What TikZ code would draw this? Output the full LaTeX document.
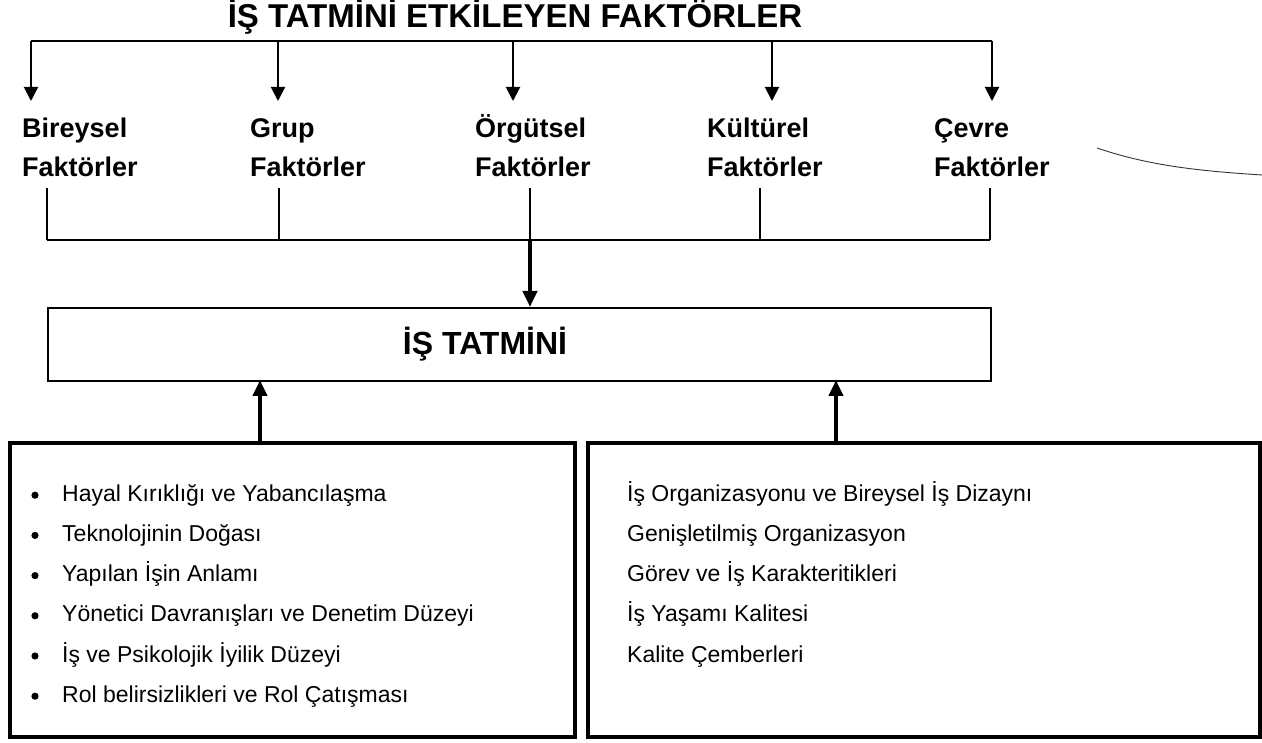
\documentclass[tikz,border=0pt]{standalone}
\usepackage{fontspec}
\setmainfont{Liberation Sans}
\usetikzlibrary{arrows.meta}
\begin{document}
\begin{tikzpicture}[x=1pt,y=-1pt,
  txt/.style={inner sep=0pt,anchor=base west},
  head/.style={txt,font=\bfseries\fontsize{27}{30}\selectfont},
  item/.style={txt,font=\fontsize{23}{26}\selectfont},
  thin line/.style={line width=1.5pt},
  down arrow/.style={line width=2pt,-{Triangle[width=14pt,length=14pt]}},
  heavy arrow/.style={line width=4pt,-{Triangle[width=14pt,length=16pt]}},
  frame/.style={draw,line width=4pt,inner sep=0pt}]
\useasboundingbox (0,0) rectangle (1262,743);

% heading
\node[inner sep=0pt,anchor=base,font=\bfseries\fontsize{33}{35}\selectfont] (title) at (515,28) {İŞ TATMİNİ ETKİLEYEN FAKTÖRLER};

% distribution bus under the heading
\coordinate (busL) at (31,41);
\coordinate (busR) at (992,41);
\draw[line width=2pt] (busL) -- (busR);

% factor groups
\node[head] (f1a) at (22,137.5) {Bireysel};
\node[head] (f1b) at (22,176.5) {Faktörler};
\node[head] (f2a) at (250,137.5) {Grup};
\node[head] (f2b) at (250,176.5) {Faktörler};
\node[head] (f3a) at (475,137.5) {Örgütsel};
\node[head] (f3b) at (475,176.5) {Faktörler};
\node[head] (f4a) at (707,137.5) {Kültürel};
\node[head] (f4b) at (707,176.5) {Faktörler};
\node[head] (f5a) at (934,137.5) {Çevre};
\node[head] (f5b) at (934,176.5) {Faktörler};

% arrows from the bus to each group
\foreach \x/\n in {31/1,278/2,513/3,772/4,992/5}{
  \coordinate (in\n) at (\x,41);
  \coordinate (tip\n) at (\x,101);
  \draw[down arrow] (in\n) -- (tip\n);
}

% collecting lines below the groups
\foreach \x/\n in {47/1,279/2,530/3,760/4,990/5}{
  \coordinate (out\n) at (\x,188);
  \coordinate (join\n) at (\x,240);
  \draw[thin line] (out\n) -- (join\n);
}
\draw[thin line] (join1) -- (join5);

% job satisfaction box
\node[draw,line width=2pt,inner sep=0pt,minimum width=943pt,minimum height=73pt,anchor=north west] (sat) at (47,307) {};
\node[inner sep=0pt,anchor=base,font=\bfseries\fontsize{32}{34}\selectfont] (sattext) at (485,355) {İŞ TATMİNİ};
\draw[heavy arrow] (join3) -- (530,307);

% lower boxes
\node[frame,minimum width=565pt,minimum height=294pt,anchor=north west] (left) at (8,441) {};
\node[frame,minimum width=672pt,minimum height=294pt,anchor=north west] (right) at (586,441) {};
\draw[heavy arrow] (260,441) -- (260,380);
\draw[heavy arrow] (836,441) -- (836,380);

% left list
\foreach \t [count=\i] in {Hayal Kırıklığı ve Yabancılaşma,Teknolojinin Doğası,Yapılan İşin Anlamı,Yönetici Davranışları ve Denetim Düzeyi,İş ve Psikolojik İyilik Düzeyi,Rol belirsizlikleri ve Rol Çatışması}{
  \node[item] (l\i) at (62,461+40.2*\i) {\t};
  \fill (35,455+40.2*\i) circle (3.6pt);
}

% right list
\foreach \t [count=\i] in {İş Organizasyonu ve Bireysel İş Dizaynı,Genişletilmiş Organizasyon,Görev ve İş Karakteritikleri,İş Yaşamı Kalitesi,Kalite Çemberleri}{
  \node[item] (r\i) at (627,461+40.2*\i) {\t};
}

% stray curved stroke at the right margin
\draw[line width=0.9pt,black!80] (1097,148) .. controls (1150,166) and (1200,171) .. (1262,175);
\end{tikzpicture}
\end{document}
